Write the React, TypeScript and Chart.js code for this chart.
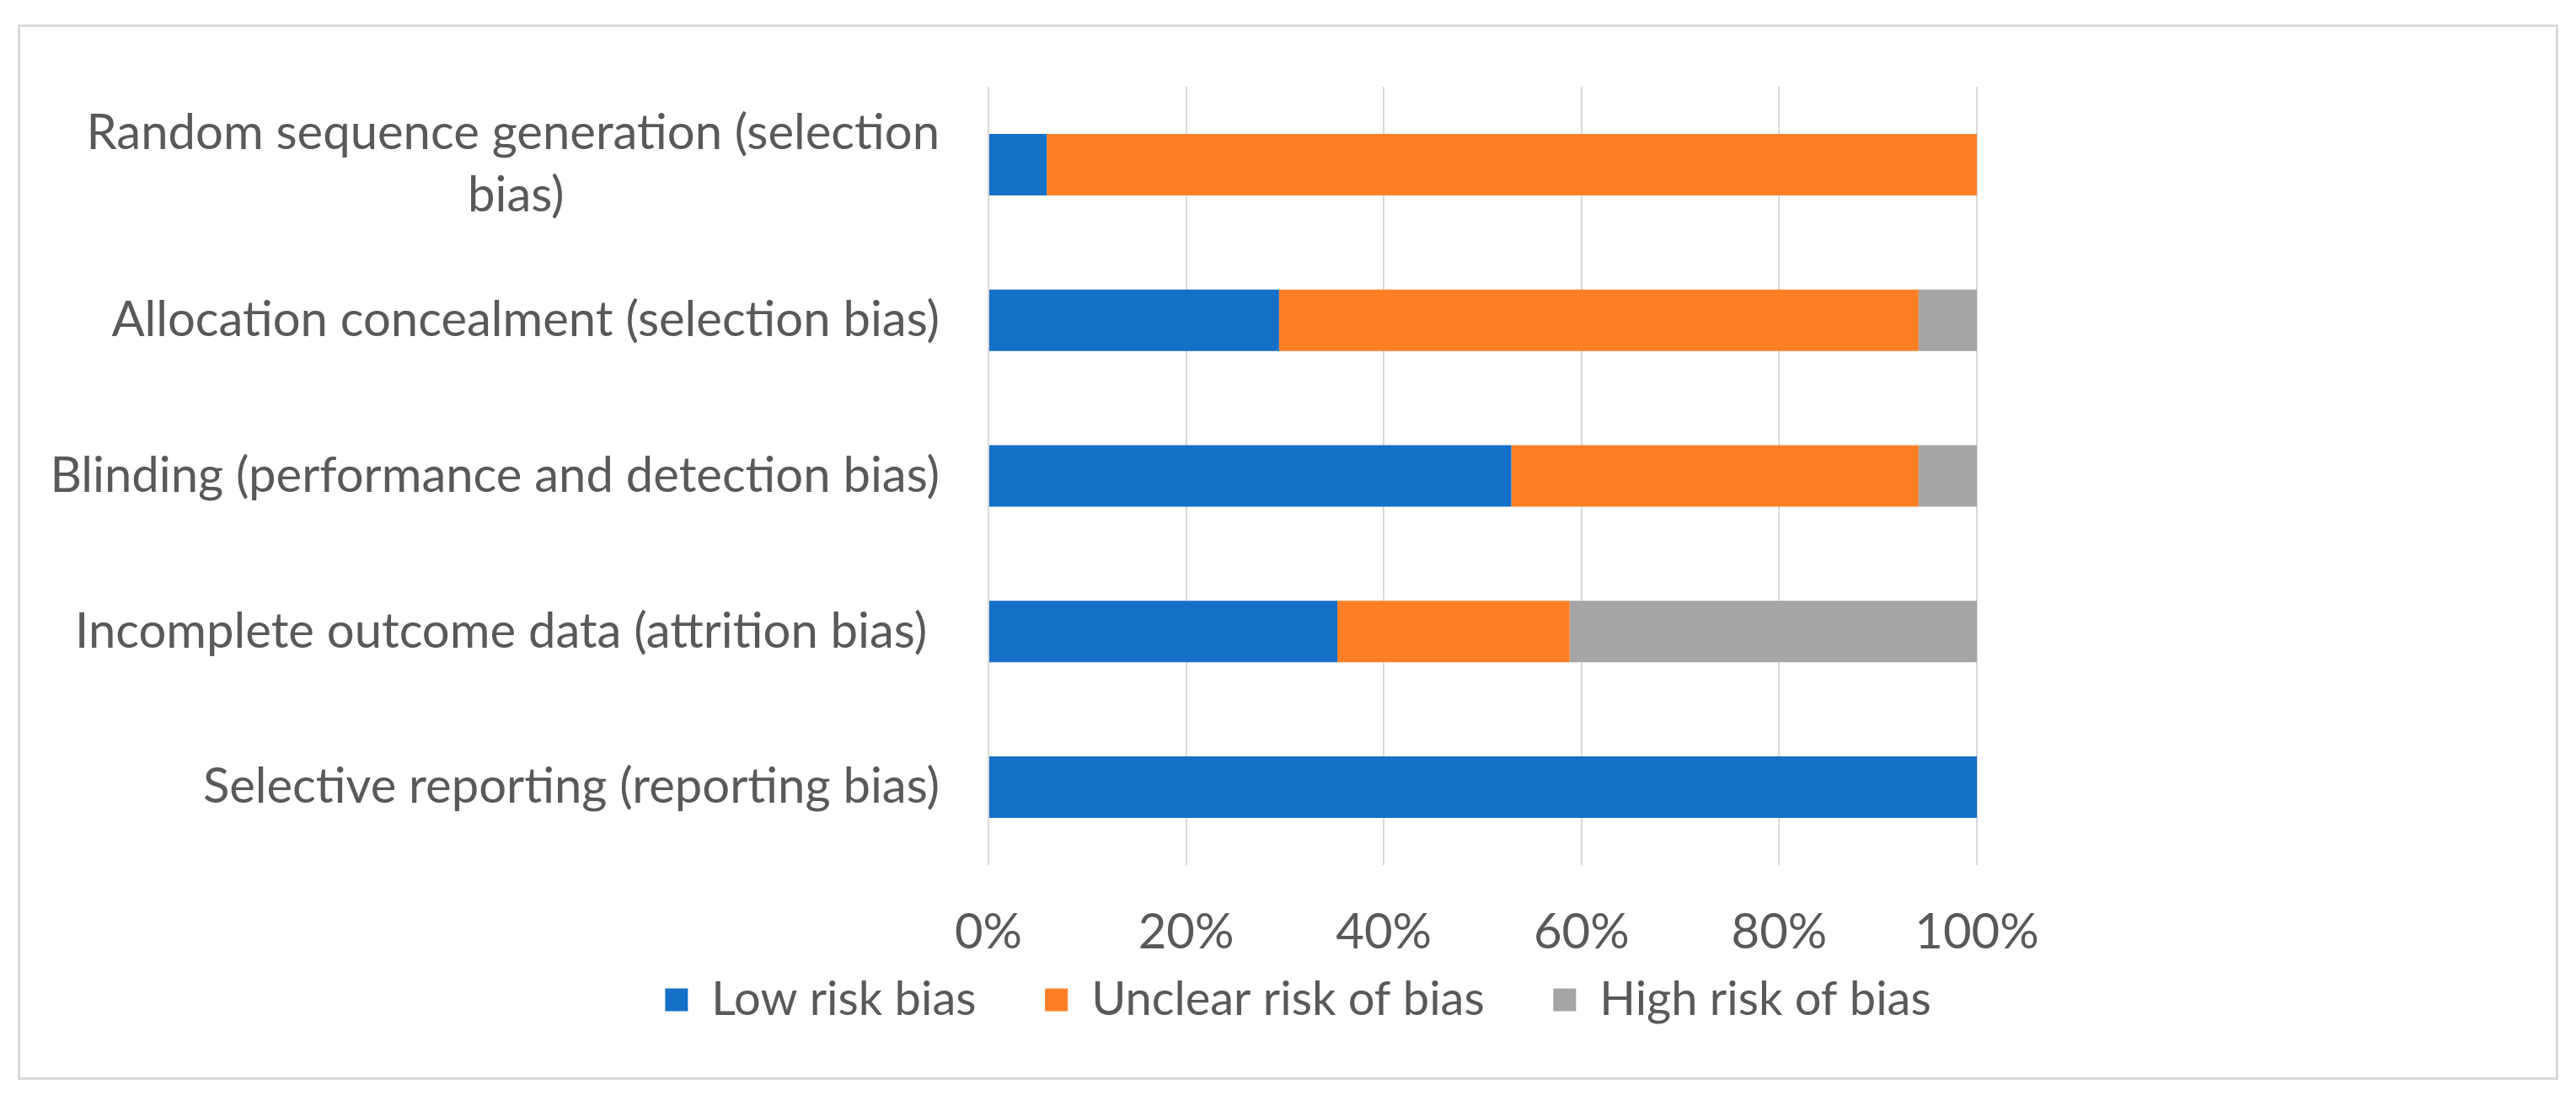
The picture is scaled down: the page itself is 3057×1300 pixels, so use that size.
import React, { useEffect, useRef } from "react";
import { Chart, registerables } from "chart.js";

Chart.register(...registerables);

// ---- data ----
const categories: (string | string[])[] = [
  ["Random sequence generation (selection", "bias)"],
  "Allocation concealment (selection bias)",
  "Blinding (performance and detection bias)",
  "Incomplete outcome data (attrition bias) ",
  "Selective reporting (reporting bias)",
];
const seriesNames = ["Low risk bias", "Unclear risk of bias", "High risk of bias"];
const lowRisk = [5.9, 29.4, 52.9, 35.3, 100];
const unclearRisk = [94.1, 64.7, 41.2, 23.5, 0];
const highRisk = [0, 5.9, 5.9, 41.2, 0];
const xTicks = [0, 20, 40, 60, 80, 100];
const seriesColors = ["#1570C8", "#FF7F27", "#A5A5A5"];

const TEXT_COLOR = "#595959";
const FONT_FAMILY = "Lato, 'Open Sans', sans-serif";
const FONT_SIZE = 58;
const LEGEND_FONT_SIZE = 56;
const LEGEND_GAP = 86; // space between one legend text and the next box
const LEGEND_PAD = 10;

function measurer(size: number) {
  const c = document.createElement("canvas").getContext("2d")!;
  c.font = `${size}px ${FONT_FAMILY}`;
  return c;
}

// pad shorter lines of a wrapped label so that, right-aligned, they look centred
function centreLines(lines: string[]): string[] {
  const c = measurer(FONT_SIZE);
  const widths = lines.map((l) => c.measureText(l).width);
  const max = Math.max(...widths);
  const sp = c.measureText(" ").width || 1;
  return lines.map((l, i) => l + " ".repeat(Math.round((max - widths[i]) / 2 / sp)));
}

export default function App() {
  const ref = useRef<HTMLCanvasElement | null>(null);

  useEffect(() => {
    if (!ref.current) return;
    const series = [lowRisk, unclearRisk, highRisk];
    const labels = categories.map((c) => (Array.isArray(c) ? centreLines(c) : c));
    const m = measurer(LEGEND_FONT_SIZE);
    const spaceW = m.measureText(" ").width || 1;
    const gapSpaces = " ".repeat(Math.max(0, Math.round((LEGEND_GAP - LEGEND_PAD) / spaceW)));

    const chart = new Chart(ref.current, {
      type: "bar",
      data: {
        labels,
        datasets: seriesNames.map((name, i) => ({
          label: name,
          data: series[i],
          backgroundColor: seriesColors[i],
          borderWidth: 0,
          barPercentage: 0.395,
          categoryPercentage: 1,
        })),
      },
      options: {
        indexAxis: "y",
        responsive: false,
        animation: false,
        devicePixelRatio: 1,
        layout: { padding: { left: 24, right: 0, top: 103, bottom: 75 } },
        scales: {
          x: {
            type: "linear",
            stacked: true,
            min: 0,
            max: 100,
            position: "bottom",
            afterBuildTicks: (s: any) => {
              s.ticks = xTicks.map((v) => ({ value: v }));
            },
            ticks: {
              callback: (v: any) => `${v}%`,
              color: TEXT_COLOR,
              font: { family: FONT_FAMILY, size: FONT_SIZE, lineHeight: 1.2 },
              padding: 45,
              maxRotation: 0,
              autoSkip: false,
            },
            grid: { color: "#D9D9D9", lineWidth: 2, drawTicks: false },
            border: { display: false },
            afterFit: (s: any) => {
              s.height = 122;
            },
          },
          y: {
            type: "category",
            stacked: true,
            position: "left",
            ticks: {
              color: TEXT_COLOR,
              font: { family: FONT_FAMILY, size: FONT_SIZE, lineHeight: 1.28 },
              padding: 58,
              autoSkip: false,
            },
            grid: { display: false, drawTicks: false },
            border: { display: false },
            afterFit: (s: any) => {
              s.width = 1149;
            },
          },
          yRight: {
            type: "linear",
            position: "right",
            display: true,
            grid: { display: false, drawTicks: false },
            border: { display: false },
            ticks: { display: false },
            afterFit: (s: any) => {
              s.width = 711;
            },
          },
        },
        plugins: {
          legend: {
            position: "bottom",
            labels: {
              boxWidth: 27,
              boxHeight: 27,
              padding: LEGEND_PAD,
              color: TEXT_COLOR,
              font: { family: FONT_FAMILY, size: LEGEND_FONT_SIZE },
              generateLabels: (ch: any) => {
                const items = Chart.defaults.plugins.legend.labels.generateLabels(ch);
                return items.map((it: any, i: number) => ({
                  ...it,
                  text: i < items.length - 1 ? it.text + gapSpaces : it.text,
                }));
              },
            },
          },
          tooltip: { enabled: false },
        },
      },
    } as any);
    return () => chart.destroy();
  }, []);

  return (
    <div
      style={{
        position: "fixed",
        left: 0,
        top: 0,
        width: 3057,
        height: 1300,
        background: "#ffffff",
      }}
    >
      <div
        style={{
          position: "absolute",
          left: 21,
          top: 29,
          width: 3015,
          height: 1253,
          border: "3px solid #D9D9D9",
          boxSizing: "border-box",
          pointerEvents: "none",
        }}
      />
      <canvas
        ref={ref}
        width={3057}
        height={1300}
        style={{ position: "absolute", left: 0, top: 0, width: 3057, height: 1300 }}
      />
    </div>
  );
}
